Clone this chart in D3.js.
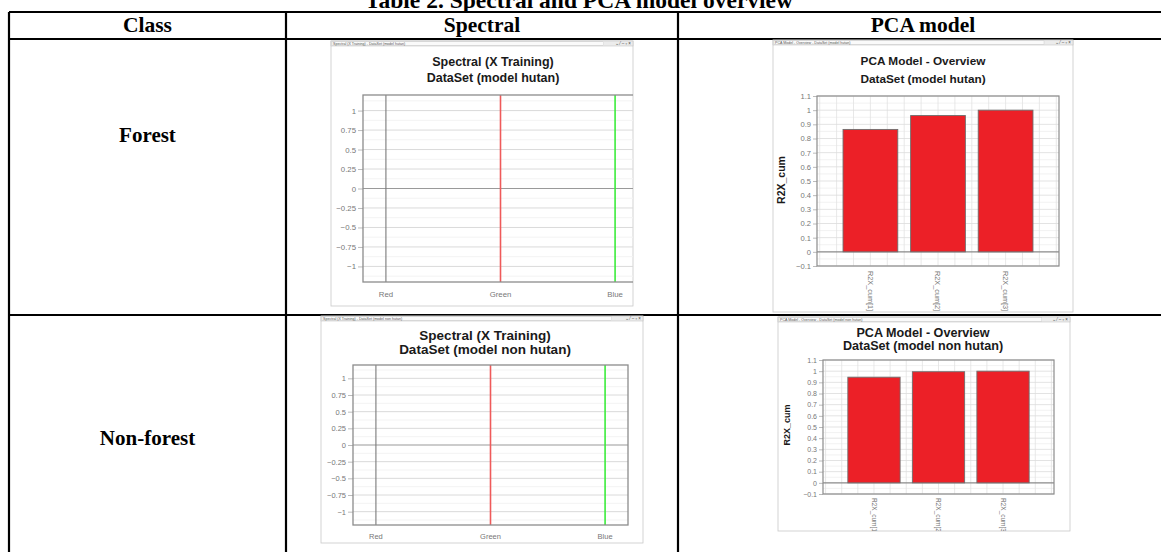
<!DOCTYPE html>
<html>
<head>
<meta charset="utf-8">
<script src="https://cdn.jsdelivr.net/npm/d3@7"></script>
<style>
  body { margin: 0; background: #fff; }
  svg { display: block; }
</style>
</head>
<body>
<svg id="chart"></svg>
<script>
// ---- data ----
const tableTitle = 'Table 2. Spectral and PCA model overview';
const columnHeaders = ['Class', 'Spectral', 'PCA model'];
const classes = ['Forest', 'Non-forest'];
const datasetNames = ['model hutan', 'model non hutan'];

const bands = ['Red', 'Green', 'Blue'];
const spectralTicks = [-1, -0.75, -0.5, -0.25, 0, 0.25, 0.5, 0.75, 1];
const spectralDomain = [-1.2, 1.2];

const components = ['R2X_cum[1]', 'R2X_cum[2]', 'R2X_cum[3]'];
const r2xForest = [0.864, 0.962, 1.0];
const r2xNonForest = [0.946, 0.995, 1.0];
const pcaTicks = [-0.1, 0, 0.1, 0.2, 0.3, 0.4, 0.5, 0.6, 0.7, 0.8, 0.9, 1, 1.1];
const pcaDomain = [-0.1, 1.1];

// line colour used for each band in the spectral plot
const bandLineColors = ['#7a7a7a', '#ef5a5a', '#3cec3c'];

const width = 1161;
const height = 552;

const svg = d3.select('#chart')
  .attr('width', width)
  .attr('height', height)
  .attr('viewBox', `0 0 ${width} ${height}`);

svg.append('rect').attr('width', width).attr('height', height).attr('fill', '#fff');

// ---- table ----
const tbl = { left: 9, top: 12, head: 39, rowDiv: 315, col1: 286, col2: 678, right: 1168 };

svg.append('text')
  .attr('x', 579)
  .attr('y', 8)
  .attr('text-anchor', 'middle')
  .attr('font-family', '"Liberation Serif", "Times New Roman", serif')
  .attr('font-weight', 'bold')
  .attr('font-size', 23.5)
  .text(tableTitle);

const lines = svg.append('g').attr('stroke', '#000').attr('stroke-width', 2.2);
[tbl.top, tbl.head, tbl.rowDiv].forEach(yy => {
  lines.append('line').attr('x1', tbl.left).attr('x2', width).attr('y1', yy).attr('y2', yy);
});
[tbl.left, tbl.col1, tbl.col2].forEach(xx => {
  lines.append('line').attr('x1', xx).attr('x2', xx).attr('y1', tbl.top).attr('y2', height);
});

const colCenters = [(tbl.left + tbl.col1) / 2, (tbl.col1 + tbl.col2) / 2, (tbl.col2 + tbl.right) / 2];
svg.append('g')
  .selectAll('text')
  .data(columnHeaders)
  .join('text')
  .attr('x', (d, i) => colCenters[i])
  .attr('y', 32)
  .attr('text-anchor', 'middle')
  .attr('font-family', '"Liberation Serif", "Times New Roman", serif')
  .attr('font-weight', 'bold')
  .attr('font-size', 21.5)
  .text(d => d);

const rowLabelY = [142, 445];
svg.append('g')
  .selectAll('text')
  .data(classes)
  .join('text')
  .attr('x', colCenters[0])
  .attr('y', (d, i) => rowLabelY[i])
  .attr('text-anchor', 'middle')
  .attr('font-family', '"Liberation Serif", "Times New Roman", serif')
  .attr('font-weight', 'bold')
  .attr('font-size', 21)
  .text(d => d);

// ---- embedded chart windows ----
const sans = '"Liberation Sans", Arial, sans-serif';

function drawWindow(g, p, caption, id) {
  g.append('rect')
    .attr('x', p.win[0]).attr('y', p.win[1])
    .attr('width', p.win[2] - p.win[0]).attr('height', p.win[3] - p.win[1])
    .attr('fill', '#fff')
    .attr('stroke', '#c8c8c8')
    .attr('stroke-width', 0.8);
  // title bar
  g.append('rect')
    .attr('x', p.win[0]).attr('y', p.win[1])
    .attr('width', p.win[2] - p.win[0]).attr('height', 5)
    .attr('fill', '#ececec')
    .attr('stroke', '#bdbdbd')
    .attr('stroke-width', 0.5);
  g.append('rect')
    .attr('x', p.win[0] + 1).attr('y', p.win[1] + 0.8)
    .attr('width', (p.win[2] - p.win[0]) * 0.9).attr('height', 3.4)
    .attr('fill', '#fafafa')
    .attr('stroke', '#c4c4c4')
    .attr('stroke-width', 0.4);
  g.append('text')
    .attr('x', p.win[0] + 2).attr('y', p.win[1] + 3.9)
    .attr('font-family', sans).attr('font-size', 3.6).attr('fill', '#555')
    .text(caption);
  g.append('text')
    .attr('x', p.win[2] - 2).attr('y', p.win[1] + 4.2)
    .attr('text-anchor', 'end')
    .attr('font-family', sans).attr('font-size', 4.5).attr('fill', '#444')
    .text('\u2304 \u2044 \u2013 \u25AB \u00D7');

  const clip = g.append('clipPath').attr('id', id);
  clip.append('rect')
    .attr('x', p.win[0]).attr('y', p.win[1] + 5)
    .attr('width', p.win[2] - p.win[0]).attr('height', p.win[3] - p.win[1] - 5);
  return g.append('g').attr('clip-path', `url(#${id})`);
}

function drawTitles(g, p, first, second) {
  g.append('text')
    .attr('x', p.cx).attr('y', p.t1)
    .attr('text-anchor', 'middle')
    .attr('font-family', sans).attr('font-weight', 'bold')
    .attr('font-size', p.tfs).attr('fill', '#1a1a1a')
    .text(first);
  g.append('text')
    .attr('x', p.cx).attr('y', p.t2)
    .attr('text-anchor', 'middle')
    .attr('font-family', sans).attr('font-weight', 'bold')
    .attr('font-size', p.tfs).attr('fill', '#1a1a1a')
    .text(second);
}

function drawSpectral(p, name, id) {
  const g0 = svg.append('g');
  const g = drawWindow(g0, p, `Spectral (X Training) - DataSet (${name})`, id);
  drawTitles(g, p, 'Spectral (X Training)', `DataSet (${name})`);

  const x = d3.scalePoint().domain(bands).range([p.plot[0], p.plot[2]]).padding(0.2);
  const y = d3.scaleLinear().domain(spectralDomain).range([p.plot[3], p.plot[1]]);

  // minor grid between the labelled ticks
  const minor = spectralTicks.slice(1).map((t, i) => (t + spectralTicks[i]) / 2)
    .concat([spectralTicks[0] - 0.125, spectralTicks[spectralTicks.length - 1] + 0.125]);
  g.append('g').selectAll('line').data(minor).join('line')
    .attr('x1', p.plot[0]).attr('x2', p.plot[2])
    .attr('y1', d => y(d)).attr('y2', d => y(d))
    .attr('stroke', '#f3f3f3').attr('stroke-width', 1);

  g.append('g').selectAll('line').data(spectralTicks).join('line')
    .attr('x1', p.plot[0]).attr('x2', p.plot[2])
    .attr('y1', d => y(d)).attr('y2', d => y(d))
    .attr('stroke', d => d === 0 ? '#9a9a9a' : '#dadada')
    .attr('stroke-width', d => d === 0 ? 1.2 : 1);

  const ax = g.append('g')
    .attr('transform', `translate(${p.plot[0]},0)`)
    .call(d3.axisLeft(y).tickValues(spectralTicks).tickSize(5).tickPadding(2)
      .tickFormat(d => d3.format('')(d)));
  ax.select('.domain').remove();
  ax.selectAll('.tick line').attr('stroke', '#bbb');
  ax.selectAll('.tick text')
    .attr('font-family', sans).attr('font-size', p.tick).attr('fill', '#777');

  // band lines
  g.append('g').selectAll('line').data(bands).join('line')
    .attr('x1', d => x(d)).attr('x2', d => x(d))
    .attr('y1', y(spectralDomain[0])).attr('y2', y(spectralDomain[1]))
    .attr('stroke', (d, i) => bandLineColors[i])
    .attr('stroke-width', (d, i) => i === 0 ? 1.1 : 1.6);

  g.append('rect')
    .attr('x', p.plot[0]).attr('y', p.plot[1])
    .attr('width', p.plot[2] - p.plot[0]).attr('height', p.plot[3] - p.plot[1])
    .attr('fill', 'none').attr('stroke', '#8c8c8c').attr('stroke-width', 1.3);

  g.append('g').selectAll('text').data(bands).join('text')
    .attr('x', d => x(d)).attr('y', p.xlab)
    .attr('text-anchor', 'middle')
    .attr('font-family', sans).attr('font-size', p.tick).attr('fill', '#777')
    .text(d => d);
}

function drawPCA(p, name, values, id) {
  const g0 = svg.append('g');
  const g = drawWindow(g0, p, `PCA Model - Overview - DataSet (${name})`, id);
  drawTitles(g, p, 'PCA Model - Overview', `DataSet (${name})`);

  const x = d3.scaleBand().domain(components).range([p.plot[0], p.plot[2]])
    .paddingInner(0.19).paddingOuter(0.385);
  const y = d3.scaleLinear().domain(pcaDomain).range([p.plot[3], p.plot[1]]);

  // minor horizontal grid
  const minor = pcaTicks.slice(1).map((t, i) => (t + pcaTicks[i]) / 2);
  g.append('g').selectAll('line').data(minor).join('line')
    .attr('x1', p.plot[0]).attr('x2', p.plot[2])
    .attr('y1', d => y(d)).attr('y2', d => y(d))
    .attr('stroke', '#efefef').attr('stroke-width', 0.8);

  // vertical grid at quarter steps
  const gap = x.step() - x.bandwidth();
  const x0 = x(components[0]) - gap / 2;
  const vgrid = d3.range(-2, 15).map(k => x0 + k * x.step() / 4)
    .filter(v => v > p.plot[0] + 2 && v < p.plot[2] - 2);
  g.append('g').selectAll('line').data(vgrid).join('line')
    .attr('x1', d => d).attr('x2', d => d)
    .attr('y1', p.plot[1]).attr('y2', p.plot[3])
    .attr('stroke', '#e2e2e2').attr('stroke-width', 0.8);

  g.append('g').selectAll('line').data(pcaTicks).join('line')
    .attr('x1', p.plot[0]).attr('x2', p.plot[2])
    .attr('y1', d => y(d)).attr('y2', d => y(d))
    .attr('stroke', d => d === 0 ? '#8a8a8a' : '#dcdcdc')
    .attr('stroke-width', d => d === 0 ? 1.1 : 0.8);

  const ax = g.append('g')
    .attr('transform', `translate(${p.plot[0]},0)`)
    .call(d3.axisLeft(y).tickValues(pcaTicks).tickSize(4).tickPadding(2)
      .tickFormat(d => d3.format('')(+d.toFixed(1))));
  ax.select('.domain').remove();
  ax.selectAll('.tick line').attr('stroke', '#bbb');
  ax.selectAll('.tick text')
    .attr('font-family', sans).attr('font-size', p.tick).attr('fill', '#777');

  g.append('g').selectAll('rect').data(values).join('rect')
    .attr('x', (d, i) => x(components[i]))
    .attr('y', d => y(d))
    .attr('width', x.bandwidth())
    .attr('height', d => y(0) - y(d))
    .attr('fill', '#ec2027')
    .attr('stroke', '#6e6e6e')
    .attr('stroke-width', 0.9);

  g.append('rect')
    .attr('x', p.plot[0]).attr('y', p.plot[1])
    .attr('width', p.plot[2] - p.plot[0]).attr('height', p.plot[3] - p.plot[1])
    .attr('fill', 'none').attr('stroke', '#8c8c8c').attr('stroke-width', 1.2);

  g.append('text')
    .attr('transform', `translate(${p.ylab[0]},${p.ylab[1]}) rotate(-90)`)
    .attr('text-anchor', 'middle')
    .attr('font-family', sans).attr('font-weight', 'bold')
    .attr('font-size', p.yfs).attr('fill', '#1a1a1a')
    .text('R2X_cum');

  g.append('g').selectAll('text').data(components).join('text')
    .attr('transform', d => `translate(${x(d) + x.bandwidth() / 2 - p.xfs * 0.35},${p.xlab}) rotate(90)`)
    .attr('font-family', sans).attr('font-size', p.xfs).attr('fill', '#777')
    .text(d => d);
}

// panel layouts (pixels on the page)
const spectralLayout = [
  { win: [331, 41, 633, 306], cx: 493, t1: 65.5, t2: 82, tfs: 12.5, plot: [363, 95, 638, 282], xlab: 297, tick: 7.8 },
  { win: [321, 316, 643, 543], cx: 485, t1: 340, t2: 354, tfs: 13.5, plot: [353, 365, 628, 525], xlab: 539, tick: 7.5 }
];
const pcaLayout = [
  { win: [773, 40, 1073, 312], cx: 923, t1: 64.5, t2: 82.5, tfs: 11.8, plot: [817, 96, 1059, 266], ylab: [785, 180], yfs: 10.5, xlab: 271, xfs: 7.3, tick: 7.6 },
  { win: [778, 317, 1070, 531], cx: 923, t1: 336.5, t2: 350, tfs: 12.6, plot: [823, 360, 1054, 494], ylab: [790, 425], yfs: 9, xlab: 498, xfs: 6.5, tick: 7 }
];

const pcaValues = [r2xForest, r2xNonForest];
classes.forEach((c, i) => {
  drawSpectral(spectralLayout[i], datasetNames[i], `clipS${i}`);
  drawPCA(pcaLayout[i], datasetNames[i], pcaValues[i], `clipP${i}`);
});
</script>
</body>
</html>
